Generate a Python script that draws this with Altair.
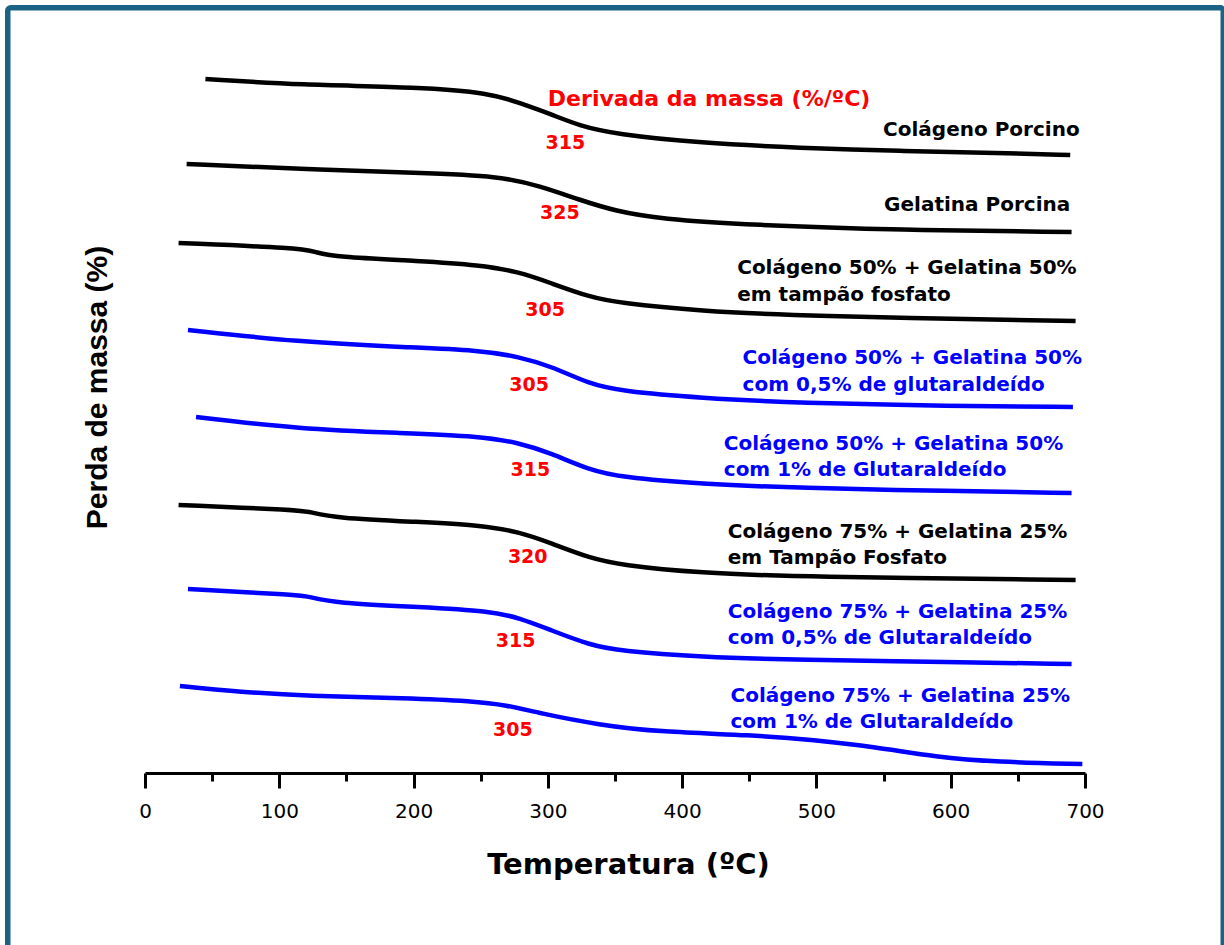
import altair as alt
import pandas as pd

# ---- data (Temperatura in ºC, mass curves in stacked offset units) ----
series = [
    "Colágeno Porcino",
    "Gelatina Porcina",
    "C50G50 tampão",
    "C50G50 0,5% glut",
    "C50G50 1% glut",
    "C75G25 tampão",
    "C75G25 0,5% glut",
    "C75G25 1% glut",
]
colors = ["#000000", "#000000", "#000000", "#0000ff", "#0000ff", "#000000", "#0000ff", "#0000ff"]
widths = [4.5, 4.5, 3.0, 4.5, 4.5, 4.5, 4.5, 3.0]

t1 = [45, 115, 205, 257, 279, 302, 324, 350, 413, 488, 562, 637, 689]
m1 = [694, 688, 686, 680, 670, 659, 647, 639, 630, 625, 622, 620, 618]

t2 = [31, 115, 205, 264, 294, 324, 350, 384, 451, 562, 690]
m2 = [609, 604, 600, 597, 587, 573, 562, 554, 548, 543, 541]

t3 = [25, 115, 127, 141, 205, 249, 279, 302, 331, 353, 413, 488, 693]
m3 = [530, 525, 521, 516, 512, 508, 501, 490, 476, 470, 462, 457, 452]

t4 = [32, 115, 190, 249, 279, 302, 331, 354, 413, 488, 599, 691]
m4 = [443, 431, 426, 423, 416, 407, 389, 382, 375, 370, 367, 366]

t5 = [38, 115, 190, 249, 279, 302, 331, 354, 413, 488, 599, 690]
m5 = [356, 344, 340, 337, 330, 320, 303, 296, 289, 285, 282, 280]

t6 = [25, 115, 123, 141, 205, 249, 279, 302, 331, 354, 413, 488, 693]
m6 = [268, 263, 261, 255, 251, 248, 241, 230, 215, 208, 200, 196, 193]

t7 = [32, 115, 123, 141, 205, 257, 279, 302, 331, 354, 413, 488, 599, 690]
m7 = [184, 178, 176, 170, 166, 162, 155, 143, 128, 122, 116, 113, 111, 109]

t8 = [26, 71, 121, 195, 244, 269, 293, 338, 384, 452, 498, 544, 589, 634, 698]
m8 = [87, 81, 77, 75, 72, 68, 60, 48, 41, 38, 33, 26, 16, 11, 9]

temps = [t1, t2, t3, t4, t5, t6, t7, t8]
masses = [m1, m2, m3, m4, m5, m6, m7, m8]

# peak temperatures (DTG) and where they are written
peak_text = ["315", "325", "305", "305", "315", "320", "315", "305"]
peak_t = [313, 309, 298, 286, 287, 285, 276, 274]
peak_m = [630, 560, 463, 388, 303, 216, 132, 43]

# curve labels
lab_left_text = [
    "Colágeno 50% + Gelatina 50%", "em tampão fosfato",
    "Colágeno 50% + Gelatina 50%", "com 0,5% de glutaraldeído",
    "Colágeno 50% + Gelatina 50%", "com 1% de Glutaraldeído",
    "Colágeno 75% + Gelatina 25%", "em Tampão Fosfato",
    "Colágeno 75% + Gelatina 25%", "com 0,5% de Glutaraldeído",
    "Colágeno 75% + Gelatina 25%", "com 1% de Glutaraldeído",
]
lab_left_t = [441, 441, 445, 445, 431, 431, 434, 434, 434, 434, 436, 436]
lab_left_m = [505, 478, 415, 388, 329, 303, 241, 215, 161, 135, 77, 51]
lab_left_col = ["#000000", "#000000", "#0000ff", "#0000ff", "#0000ff", "#0000ff",
                "#000000", "#000000", "#0000ff", "#0000ff", "#0000ff", "#0000ff"]

lab_right_text = ["Colágeno Porcino", "Gelatina Porcina"]
lab_right_t = [696, 689]
lab_right_m = [643, 568]

title_text = ["Derivada da massa (%/ºC)"]
title_t = [300]
title_m = [674]

x_ticks = [0, 50, 100, 150, 200, 250, 300, 350, 400, 450, 500, 550, 600, 650, 700]

# ---- build tables ----
rows = []
for s, ts, ms in zip(series, temps, masses):
    for i, (t, m) in enumerate(zip(ts, ms)):
        rows.append({"serie": s, "i": i, "T": t, "M": m})
curves = pd.DataFrame(rows)

peaks = pd.DataFrame({"txt": peak_text, "T": peak_t, "M": peak_m})
left_labels = pd.DataFrame({"txt": lab_left_text, "T": lab_left_t, "M": lab_left_m, "col": lab_left_col})
right_labels = pd.DataFrame({"txt": lab_right_text, "T": lab_right_t, "M": lab_right_m})
dtg_title = pd.DataFrame({"txt": title_text, "T": title_t, "M": title_m})

xscale = alt.Scale(domain=[0, 700], nice=False, zero=False)
yscale = alt.Scale(domain=[0, 700], nice=False, zero=False)

x_axis = alt.Axis(
    values=x_ticks,
    labelExpr="datum.value % 100 === 0 ? datum.label : ''",
    title="Temperatura (ºC)",
    titleFont="DejaVu Sans", titleFontSize=29, titleFontWeight="bold", titleColor="black",
    titleX=483, titleY=100, titleAlign="center", titleBaseline="alphabetic",
    labelFont="DejaVu Sans", labelFontSize=20, labelColor="black", labelPadding=13,
    labelFlush=False, labelOverlap=False,
    domainColor="black", domainWidth=3,
    tickColor="black", tickWidth=3,
    tickSize={"condition": {"test": "datum.value % 100 === 0", "value": 15}, "value": 8},
    grid=False,
)
y_axis = alt.Axis(
    title="Perda de massa (%)",
    domain=False, ticks=False, labels=False, grid=False,
    titleFont="Liberation Sans", titleFontSize=30, titleFontWeight="bold", titleColor="black",
    titleX=-48, titleY=314, titleAngle=270, titleAlign="center", titleBaseline="middle",
)

lines = alt.Chart(curves).mark_line(interpolate="basis", strokeCap="butt").encode(
    x=alt.X("T:Q", scale=xscale, axis=x_axis),
    y=alt.Y("M:Q", scale=yscale, axis=y_axis),
    color=alt.Color("serie:N", scale=alt.Scale(domain=series, range=colors), legend=None),
    strokeWidth=alt.StrokeWidth("serie:N", scale=alt.Scale(domain=series, range=widths), legend=None),
    order="i:Q",
)

peak_layer = alt.Chart(peaks).mark_text(
    font="DejaVu Sans", fontSize=19, fontWeight="bold", color="#ff0000",
    align="center", baseline="middle",
).encode(x="T:Q", y="M:Q", text="txt:N")

left_layer = alt.Chart(left_labels).mark_text(
    font="DejaVu Sans", fontSize=20, fontWeight="bold",
    align="left", baseline="middle",
).encode(x="T:Q", y="M:Q", text="txt:N", color=alt.Color("col:N", scale=None))

right_layer = alt.Chart(right_labels).mark_text(
    font="DejaVu Sans", fontSize=20, fontWeight="bold", color="#000000",
    align="right", baseline="middle",
).encode(x="T:Q", y="M:Q", text="txt:N")

title_layer = alt.Chart(dtg_title).mark_text(
    font="DejaVu Sans", fontSize=22, fontWeight="bold", color="#ff0000",
    align="left", baseline="middle",
).encode(x="T:Q", y="M:Q", text="txt:N")

# decorative outer frame of the figure
frame = alt.Chart(pd.DataFrame({"k": [0]})).mark_rect(
    fill=None, stroke="#1b6384", strokeWidth=5.5, cornerRadius=3,
).encode(
    x=alt.value(-137.25), x2=alt.value(1078.25),
    y=alt.value(-65.25), y2=alt.value(890),
)

chart = alt.layer(frame, lines, peak_layer, left_layer, right_layer, title_layer).properties(
    width=940, height=700,
    padding={"left": 145, "top": 73, "right": 139, "bottom": 172},
    autosize=alt.AutoSizeParams(type="none"),
    background="white",
).configure_view(stroke=None)

chart.save("out.html", embed_options={"renderer": "svg", "actions": False})
